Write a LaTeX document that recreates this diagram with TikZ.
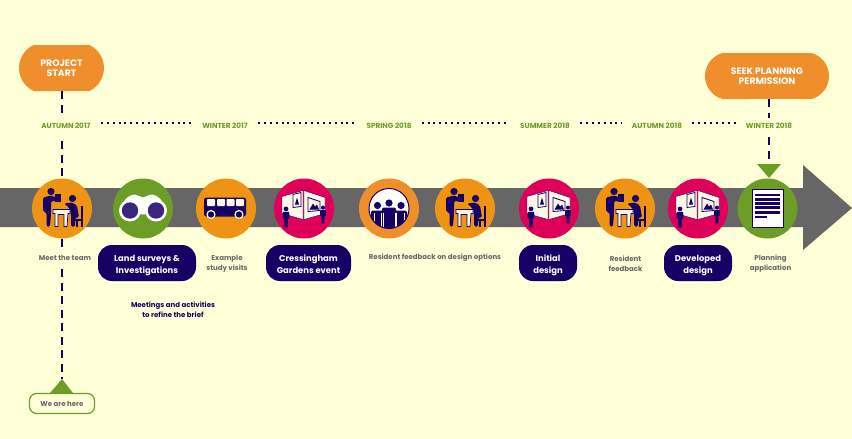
\documentclass[tikz,border=0pt]{standalone}
\usepackage{fontspec}
\setmainfont{Poppins}
\usetikzlibrary{positioning, shapes.misc}

\definecolor{paper}{HTML}{FFFFD8}
\definecolor{navy}{HTML}{160066}
\definecolor{band}{HTML}{666666}
\definecolor{tangerine}{HTML}{F08E2C}
\definecolor{amber}{HTML}{EE9313}
\definecolor{leaf}{HTML}{6C9E26}
\definecolor{berry}{HTML}{DE0059}
\definecolor{cream}{HTML}{FBF8E6}

\tikzset{
    stopdot/.style={circle, minimum size=60pt, inner sep=0pt},
    season/.style={font=\fontsize{7.3}{8}\selectfont\bfseries, text=leaf, inner sep=1pt},
    caption/.style={font=\fontsize{7}{10}\selectfont\bfseries, text=band, align=center, inner sep=1pt},
    pill/.style={fill=navy, rounded corners=14pt, text=white, align=center, minimum height=36pt, inner sep=0pt,
        text height=20pt, text depth=0pt, font=\fontsize{8.4}{12}\selectfont\bfseries},
    milestone/.style={rounded rectangle, rounded rectangle arc length=130, fill=tangerine, text=white, align=center,
        inner sep=0pt, text height=17.5pt, text depth=0pt, font=\fontsize{9.3}{10.5}\selectfont\bfseries},
    dashline/.style={navy, line width=2.2pt, dash pattern=on 8pt off 5.5pt},
    dotline/.style={navy, line width=2pt, dash pattern=on 2pt off 3.9pt, shorten >=9pt, shorten <=9pt},
    apex/.style={inner sep=0pt, minimum size=0pt},
    figure/.pic={
        \fill[navy] (0,-4.6) circle (2.4);
        \fill[navy] (-3.2,-1.6) -- (3.2,-1.6) -- (3.4,5) -- (2,5) -- (1.5,14) -- (-1.5,14) -- (-2,5) -- (-3.4,5) -- cycle;
    },
    deskicon/.pic={
        \fill[navy] (-11,-17) circle (3.6);
        \fill[navy] (-7,-15) rectangle (-1,-7);
        \fill[navy, rounded corners=1.5pt] (-19,-11) -- (-11,-13) -- (-3,-10) -- (-3,-7.5) -- (-11,-7.5) -- (-11,5) -- (-12,18) -- (-15.5,18) -- (-15.5,4) -- (-19,3) -- cycle;
        \fill[navy] (10.5,-10) circle (3.6);
        \fill[navy, rounded corners=1.5pt] (2,-5) -- (10,-6) -- (15,-3) -- (17,9) -- (13,9) -- (13,18) -- (9,18) -- (9,5) -- (7,-1) -- cycle;
        \draw[navy, line width=2pt] (20,-3) -- (20,18) (11,11) -- (20,11) (15,11) -- (15,18);
        \filldraw[fill=cream, draw=navy, line width=.7pt] (-9,1) -- (8,1) -- (8,5) -- (6,5) -- (5,18) -- (2,18) -- (2,6) -- (-4,6) -- (-4,18) -- (-7,18) -- (-7,5) -- (-9,5) -- cycle;
    },
    wallicon/.pic={
        \filldraw[fill=cream, draw=navy, line width=.4pt] (-22,-12) -- (-1,-18) -- (-1,11) -- (-22,5) -- cycle;
        \filldraw[fill=cream, draw=navy, line width=.4pt] (0,-18) -- (21,-11) -- (21,5) -- (0,11) -- cycle;
        \draw[navy, line width=.8pt] (-11,-14) -- (-3,-16) -- (-3,-2) -- (-11,-1) -- cycle;
        \fill[navy] (-9,-4) -- (-7,-11) -- (-5,-4) -- cycle;
        \draw[navy, line width=.8pt] (4,-11) -- (16,-7) -- (16,2) -- (4,3) -- cycle;
        \fill[navy] (5.5,1) -- (9,-5) -- (11,-2) -- (13,-4) -- (15,1) -- cycle;
        \pic at (-18,5) {figure};
        \pic[scale=.85] at (19,3) {figure};
    },
    busicon/.pic={
        \fill[navy, rounded corners=2.5pt] (-22,-11) rectangle (20,8);
        \foreach \wx in {-19,-9,0.5,10}
            \fill[cream, rounded corners=.8pt] (\wx,-9.5) rectangle ++(8,7);
        \foreach \wx in {-15,13} {
            \fill[paper] (\wx,6) circle (4.6);
            \fill[navy] (\wx,6) circle (3.2);
        }
    },
    binocicon/.pic={
        \fill[white] (-22,2) .. controls (-22,-6) and (-15,-14) .. (-8,-14) .. controls (-5,-14) and (-3,-11) .. (0,-11) .. controls (3,-11) and (5,-14) .. (8,-14) .. controls (15,-14) and (22,-6) .. (22,2) -- (0,6) -- cycle;
        \foreach \lx in {-13,13} {
            \fill[white] (\lx,2) circle (11);
            \fill[navy!85!white] (\lx,2) circle (8.2);
        }
    },
    crowdicon/.pic={
        \fill[white] (0,0) circle (20);
        \begin{scope}
            \clip (0,0) circle (20);
            \foreach \hx/\hy in {-11.5/-3,12/-3,0/-5.5}
                \fill[navy] (\hx,\hy) circle (3.6);
            \fill[navy, rounded corners=2pt] (-18,2) rectangle (-5,21) (5,2) rectangle (18,21);
            \fill[navy, rounded corners=2pt] (-7,-1) rectangle (7,21);
            \foreach \sx in {-15,-7.5,-6,6,7.5,15}
                \draw[white, line width=.5pt] (\sx,4) -- (\sx,21);
        \end{scope}
        \draw[navy, line width=1pt] (0,0) circle (20);
    },
    dociconb/.pic={
        \filldraw[fill=white, draw=navy, line width=1pt] (-15.5,-19) rectangle (15.5,19);
        \foreach \ly in {-15,-10.7,-6.4,-2.2,2.2}
            \fill[navy] (-13,\ly) rectangle (12.5,\ly+2.8);
        \fill[navy] (-13,7) rectangle (-1,9.8);
    }
}

\begin{document}
\begin{tikzpicture}[x=1pt, y=-1pt]
    \useasboundingbox (0,0) rectangle (852,439);
    \fill[paper] (0,0) rectangle (852,439);

    % the long arrow
    \fill[band] (0,188) -- (803,188) -- (803,165) -- (852,208) -- (803,250) -- (803,227) -- (0,227) -- cycle;

    % seasons
    \foreach \nm/\xx/\txt in {autA/66/AUTUMN 2017, winA/225/WINTER 2017, sprB/389/SPRING 2018, sumB/545/SUMMER 2018, autB/657/AUTUMN 2018, winB/769/WINTER 2018}
        \node[season] (\nm) at (\xx,125.5) {\txt};
    \foreach \a/\b in {autA/winA, winA/sprB, sprB/sumB, sumB/autB, autB/winB}
        \draw[dotline] ([yshift=2.5pt]\a.east) -- ([yshift=2.5pt]\b.west);

    % milestones
    \node[milestone, minimum width=85pt, minimum height=46pt] (projstart) at (61.5,68) {PROJECT\\START};
    \node[milestone, minimum width=124pt, minimum height=46pt, rounded rectangle arc length=150] (seekperm) at (767,76) {SEEK PLANNING\\PERMISSION};

    % stops along the arrow
    \foreach \nm/\xx/\col in {team/62/amber, survey/143/leaf, visits/226/amber, event/304/berry, crowd/389/tangerine, design/465/amber, initial/549/berry, feedback/625/amber, developed/698/berry, planning/767.5/leaf}
        \node[stopdot, fill=\col] (\nm) at (\xx,208.5) {};
    \pic at (team) {deskicon};
    \pic at (survey) {binocicon};
    \pic at (visits) {busicon};
    \pic at (event) {wallicon};
    \pic at (crowd) {crowdicon};
    \pic at (design) {deskicon};
    \pic at (initial) {wallicon};
    \pic at (feedback) {deskicon};
    \pic at (developed) {wallicon};
    \pic at (planning) {dociconb};

    % text under the stops
    \node[caption] (meet) at (65,257.5) {Meet the team};
    \node[caption] (example) at (227,263.5) {Example\\study visits};
    \node[caption] (options) at (435,257.5) {Resident feedback on design options};
    \node[caption] (resident) at (625.5,263.5) {Resident\\feedback};
    \node[caption] (application) at (770.5,263.5) {Planning\\application};
    \node[caption, text=navy] (meetings) at (173,310) {Meetings and activities\\to refine the brief};

    \node[pill, minimum width=98pt] (land) at (147,263) {Land surveys \&\\Investigations};
    \node[pill, minimum width=85pt] (gardens) at (308.5,263) {Cressingham\\Gardens event};
    \node[pill, minimum width=58pt] (initialbox) at (548,263) {Initial\\design};
    \node[pill, minimum width=68pt] (developedbox) at (698,263) {Developed\\design};

    % we are here
    \node[draw=leaf, line width=1.2pt, fill=paper, rounded corners=7pt, minimum width=65pt, minimum height=20pt, inner sep=0pt,
        font=\fontsize{7}{8}\selectfont\bfseries, text=band] (here) at (62,403.5) {We are here};
    \node[apex] (hereapex) at (62,379) {};
    \fill[leaf] (hereapex.center) -- (73,393) -- (50,393) -- cycle;

    % pointer onto planning application
    \node[apex] (planapex) at (769,178) {};
    \fill[leaf] (planapex.center) -- (757,164) -- (781,164) -- cycle;

    % dashed lines
    \draw[dashline] (projstart.south -| team) -- ([yshift=4pt]autA.north -| team);
    \draw[dashline] ([yshift=-12pt]autA.south -| team) -- (team.north);
    \draw[dashline] (team.south) -- ([yshift=4pt]meet.north -| team);
    \draw[dashline] ([yshift=-8pt]meet.south -| team) -- (hereapex);
    \draw[dashline] (seekperm.south -| planapex) -- ([yshift=4pt]winB.north -| planapex);
    \draw[dashline] ([yshift=-8pt]winB.south -| planapex) -- ([yshift=14pt]planapex.center);
\end{tikzpicture}
\end{document}
